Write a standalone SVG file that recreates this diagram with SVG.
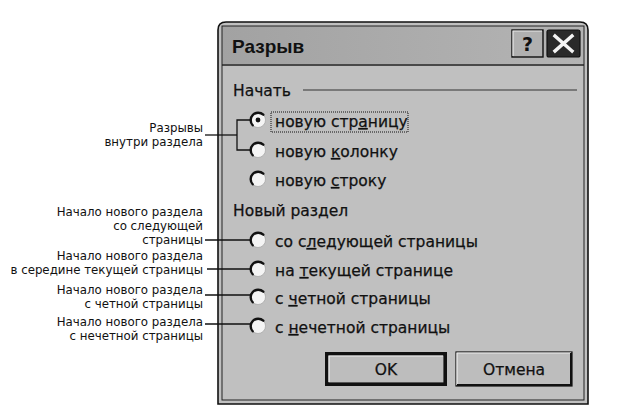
<svg xmlns="http://www.w3.org/2000/svg" width="620" height="417" viewBox="0 0 620 417">
<style>
.lbl{font-family:"DejaVu Sans","Liberation Sans",sans-serif;font-size:11.8px;fill:#111;text-anchor:end}
.dt{font-family:"DejaVu Sans","Liberation Sans",sans-serif;font-size:15.5px;fill:#111;stroke:#111;stroke-width:0.25}
.rb{fill:#f4f4f4;stroke:#9a9a9a;stroke-width:0.6}
.rba{fill:none;stroke:#111;stroke-width:2.4;stroke-linecap:round}
.con{fill:none;stroke:#111;stroke-width:1.3}
.btn{fill:#bdbdbd;stroke:#111;stroke-width:1.2}
</style>
<defs>
<linearGradient id="tb" x1="0" y1="0" x2="1" y2="0">
<stop offset="0" stop-color="#a2a2a2"/>
<stop offset="1" stop-color="#b4b4b4"/>
</linearGradient>
</defs>
<rect width="620" height="417" fill="#ffffff"/>

<g id="dialog">
<path d="M218,404 V30 Q218,22 226,22 H580 Q588,22 588,30 V404 Z" fill="#c0c0c0" stroke="#111" stroke-width="1.6"/>
<rect x="222" y="26" width="362" height="38" fill="url(#tb)"/>
<rect x="222" y="26" width="362" height="374" fill="none" stroke="#222" stroke-width="1"/>
<line x1="222" y1="65" x2="584" y2="65" stroke="#222" stroke-width="1.5"/>
<text x="232" y="53" font-family="'Liberation Sans',Arial,sans-serif" font-size="19" font-weight="bold" fill="#111">Разрыв</text>
</g>

<g id="help-button">
<rect x="512" y="30" width="31" height="27" fill="#b0b0b0" stroke="#111" stroke-width="1.4"/>
<path d="M513,56 V31 H542" fill="none" stroke="#e8e8e8" stroke-width="1.2"/>
<text x="527.5" y="51" text-anchor="middle" font-family="'DejaVu Sans',sans-serif" font-size="19" font-weight="bold" fill="#111">?</text>
</g>
<g id="close-button">
<rect x="547" y="30" width="33" height="27" rx="2" fill="#2a2a2a" stroke="#111" stroke-width="1.2"/>
<path d="M555,36 L572,51 M572,36 L555,51" stroke="#f4f4f4" stroke-width="3.4" stroke-linecap="square"/>
</g>

<g id="group-start">
<text class="dt" x="233" y="96">Начать</text>
<line x1="303" y1="90" x2="577" y2="90" stroke="#333" stroke-width="1"/>
</g>

<g id="opt-new-page">
<circle class="rb" cx="258" cy="120" r="7.5"/>
<path class="rba" d="M252.7,125.3 A7.5,7.5 0 0 1 263.3,114.7"/>
<circle cx="258" cy="120" r="2.4" fill="#111"/>
<rect x="271" y="112" width="137" height="20" fill="none" stroke="#111" stroke-width="1" stroke-dasharray="1,1"/>
<text class="dt" x="275" y="127">новую стр<tspan text-decoration="underline">а</tspan>ницу</text>
</g>
<g id="opt-new-column">
<circle class="rb" cx="258" cy="150" r="7.5"/>
<path class="rba" d="M252.7,155.3 A7.5,7.5 0 0 1 263.3,144.7"/>
<text class="dt" x="275" y="157">новую <tspan text-decoration="underline">к</tspan>олонку</text>
</g>
<g id="opt-new-line">
<circle class="rb" cx="258" cy="179" r="7.5"/>
<path class="rba" d="M252.7,184.3 A7.5,7.5 0 0 1 263.3,173.7"/>
<text class="dt" x="275" y="186">новую <tspan text-decoration="underline">с</tspan>троку</text>
</g>

<g id="group-new-section">
<text class="dt" x="233" y="216">Новый раздел</text>
</g>
<g id="opt-next-page">
<circle class="rb" cx="258" cy="240" r="7.5"/>
<path class="rba" d="M252.7,245.3 A7.5,7.5 0 0 1 263.3,234.7"/>
<text class="dt" x="275" y="247">со с<tspan text-decoration="underline">л</tspan>едующей страницы</text>
</g>
<g id="opt-current-page">
<circle class="rb" cx="258" cy="269" r="7.5"/>
<path class="rba" d="M252.7,274.3 A7.5,7.5 0 0 1 263.3,263.7"/>
<text class="dt" x="275" y="276">на <tspan text-decoration="underline">т</tspan>екущей странице</text>
</g>
<g id="opt-even-page">
<circle class="rb" cx="258" cy="297" r="7.5"/>
<path class="rba" d="M252.7,302.3 A7.5,7.5 0 0 1 263.3,291.7"/>
<text class="dt" x="275" y="304">с <tspan text-decoration="underline">ч</tspan>етной страницы</text>
</g>
<g id="opt-odd-page">
<circle class="rb" cx="258" cy="326" r="7.5"/>
<path class="rba" d="M252.7,331.3 A7.5,7.5 0 0 1 263.3,320.7"/>
<text class="dt" x="275" y="333">с <tspan text-decoration="underline">н</tspan>ечетной страницы</text>
</g>

<g id="btn-ok">
<rect x="325" y="352" width="122" height="34" fill="#111"/>
<rect class="btn" x="328" y="355" width="116" height="28"/>
<path d="M329,382 V356 H443" fill="none" stroke="#eeeeee" stroke-width="1.2"/>
<text class="dt" x="386" y="375" text-anchor="middle">OK</text>
</g>
<g id="btn-cancel">
<rect class="btn" x="456" y="352" width="116" height="34"/>
<path d="M457,385 V353 H571" fill="none" stroke="#eeeeee" stroke-width="1.2"/>
<path d="M457,385 H571 V353" fill="none" stroke="#111" stroke-width="2"/>
<text class="dt" x="514" y="375" text-anchor="middle">Отмена</text>
</g>

<g id="label-breaks">
<text class="lbl" x="203" y="132">Разрывы</text>
<text class="lbl" x="203" y="146">внутри раздела</text>
</g>
<g id="label-next-page">
<text class="lbl" x="203" y="216">Начало нового раздела</text>
<text class="lbl" x="203" y="230">со следующей</text>
<text class="lbl" x="203" y="244">страницы</text>
</g>
<g id="label-current-page">
<text class="lbl" x="203" y="260">Начало нового раздела</text>
<text class="lbl" x="203" y="274">в середине текущей страницы</text>
</g>
<g id="label-even-page">
<text class="lbl" x="203" y="294">Начало нового раздела</text>
<text class="lbl" x="203" y="308">с четной страницы</text>
</g>
<g id="label-odd-page">
<text class="lbl" x="203" y="326">Начало нового раздела</text>
<text class="lbl" x="203" y="340">с нечетной страницы</text>
</g>

<g id="connectors">
<path class="con" d="M252,120 H237 V150 H252"/>
<path class="con" d="M205,135 H237"/>
<path class="con" d="M205,240 H251"/>
<path class="con" d="M207,269 H251"/>
<path class="con" d="M205,295 H251"/>
<path class="con" d="M205,324 H251"/>
</g>
</svg>
